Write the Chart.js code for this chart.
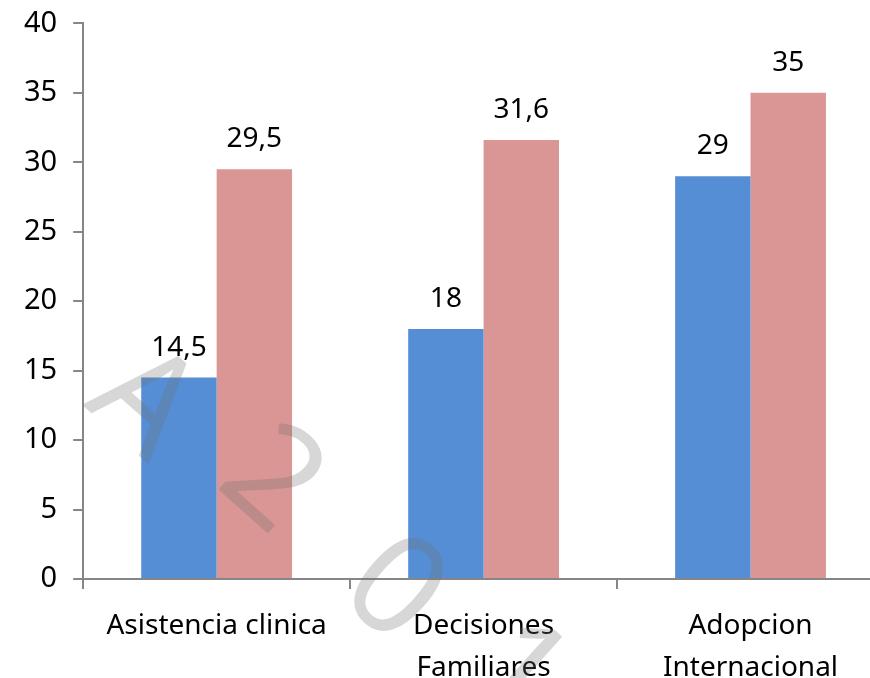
<!DOCTYPE html>
<html>
<head>
<meta charset="utf-8">
<script src="https://cdn.jsdelivr.net/npm/chart.js@4"></script>
<style>
  html, body { margin: 0; padding: 0; background: #fff; overflow: hidden; }
  #wrap { width: 884px; height: 715px; margin-top: -10px; }
</style>
</head>
<body>
<div id="wrap"><canvas id="chart" width="884" height="715"></canvas></div>
<script>
// Categories and the two series
const categories = [
  ["Asistencia clinica"],
  ["Decisiones", "Familiares"],
  ["Adopcion", "Internacional"]
];
const seriesBlue = [14.5, 18, 29];
const seriesPink = [29.5, 31.6, 35];
const yTicks = [0, 5, 10, 15, 20, 25, 30, 35, 40];

// Watermark letters drawn across the picture
const watermark = ["A", "2", "0", "1"];

const axisGray = "#868686";
const fontFamily = "'Noto Sans', 'DejaVu Sans', sans-serif";

// Writes the value above each bar, with a decimal comma
const valueLabels = {
  id: "valueLabels",
  afterDatasetsDraw(chart) {
    const ctx = chart.ctx;
    ctx.save();
    ctx.font = "28px " + fontFamily;
    ctx.fillStyle = "#000";
    ctx.textAlign = "center";
    ctx.textBaseline = "alphabetic";
    chart.data.datasets.forEach((ds, i) => {
      chart.getDatasetMeta(i).data.forEach((bar, j) => {
        const text = String(ds.data[j]).replace(".", ",");
        ctx.fillText(text, bar.x, bar.y - 22);
      });
    });
    ctx.restore();
  }
};

// Faint rotated letters laid over the chart
const watermarkPlugin = {
  id: "watermark",
  afterDraw(chart) {
    const ctx = chart.ctx;
    const spots = [[142, 415], [270, 492], [392, 602], [515, 685]];
    ctx.save();
    ctx.font = "140px " + fontFamily;
    ctx.fillStyle = "rgba(110, 110, 110, 0.28)";
    ctx.textAlign = "center";
    ctx.textBaseline = "middle";
    watermark.forEach((ch, i) => {
      ctx.save();
      ctx.translate(spots[i][0], spots[i][1]);
      ctx.rotate(Math.PI / 4.3);
      ctx.fillText(ch, 0, 0);
      ctx.restore();
    });
    ctx.restore();
  }
};

new Chart(document.getElementById("chart"), {
  type: "bar",
  data: {
    labels: categories,
    datasets: [
      { data: seriesBlue, backgroundColor: "#558ed5" },
      { data: seriesPink, backgroundColor: "#d99694" }
    ]
  },
  options: {
    responsive: false,
    animation: false,
    layout: { padding: { top: 6, left: 8, right: 0, bottom: 0 } },
    categoryPercentage: 0.565,
    barPercentage: 1,
    plugins: { legend: { display: false }, tooltip: { enabled: false } },
    scales: {
      y: {
        min: 0,
        max: 40,
        afterBuildTicks(axis) { axis.ticks = yTicks.map(v => ({ value: v })); },
        border: { color: axisGray, width: 2 },
        grid: { drawOnChartArea: false, drawTicks: true, tickLength: 10, color: axisGray, lineWidth: 2 },
        ticks: { color: "#000", padding: 16, font: { family: fontFamily, size: 29 } }
      },
      x: {
        border: { color: axisGray, width: 2 },
        grid: { drawOnChartArea: false, drawTicks: true, tickLength: 10, color: axisGray, lineWidth: 2, offset: true },
        ticks: { color: "#000", padding: 16, maxRotation: 0, font: { family: fontFamily, size: 28, lineHeight: 1.5 } }
      }
    }
  },
  plugins: [valueLabels, watermarkPlugin]
});
</script>
</body>
</html>
